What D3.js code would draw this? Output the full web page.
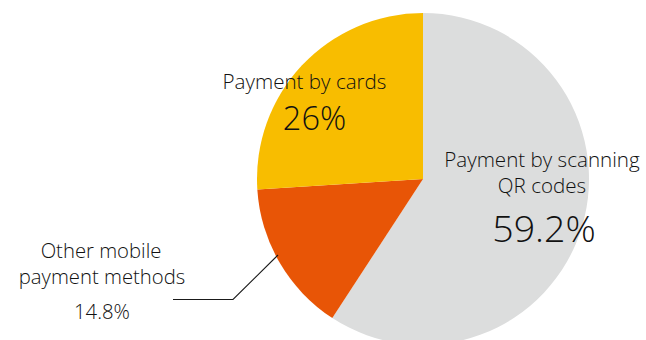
<!DOCTYPE html>
<html>
<head>
<meta charset="utf-8">
<script src="https://cdn.jsdelivr.net/npm/d3@7"></script>
<style>
  html, body { margin: 0; padding: 0; background: #fff; }
  svg { display: block; }
  text { font-family: "Open Sans", "Noto Sans", sans-serif; fill: #111; font-weight: 300; }
</style>
</head>
<body>
<svg id="chart" width="646" height="340"></svg>
<script>
// Payment method shares (%), clockwise from 12 o'clock
const categories = ["Payment by scanning QR codes", "Other mobile payment methods", "Payment by cards"];
const values = [59.2, 14.8, 26];
const valueLabels = ["59.2%", "14.8%", "26%"];
const colors = ["#dcdddd", "#e85506", "#f8bd00"];

const cx = 423, cy = 179, radius = 166;

const svg = d3.select("#chart");
const g = svg.append("g").attr("transform", `translate(${cx},${cy})`);

const pie = d3.pie().sort(null).value(d => d).startAngle(0).endAngle(2 * Math.PI);
const arcs = pie(values);
const arc = d3.arc().innerRadius(0).outerRadius(radius);

g.selectAll("path.slice")
  .data(arcs)
  .join("path")
  .attr("class", "slice")
  .attr("d", arc)
  .attr("fill", (d, i) => colors[i]);

function label(x, y, size, txt) {
  return svg.append("text")
    .attr("x", x).attr("y", y)
    .attr("text-anchor", "middle")
    .attr("font-size", size)
    .text(txt);
}

// QR codes label (inside grey slice)
label(542, 167, 20.6, "Payment by scanning");
label(542, 193, 20.6, "QR codes");
label(544, 242, 37.5, valueLabels[0]);

// Cards label (inside yellow slice)
label(304.5, 89, 20.6, "Payment by cards");
label(314.5, 130, 32.5, valueLabels[2]);

// Other mobile label (outside, with leader line)
label(101, 258, 20.3, "Other mobile");
label(102, 284, 20.3, "payment methods");
label(102, 319, 20.3, valueLabels[1]);

// Leader line into the orange slice
svg.append("polyline")
  .attr("points", [[173, 299.5], [233, 299.5], [278, 255]].map(p => p.join(",")).join(" "))
  .attr("fill", "none")
  .attr("stroke", "#1a1a1a")
  .attr("stroke-width", 1.1);
</script>
</body>
</html>
